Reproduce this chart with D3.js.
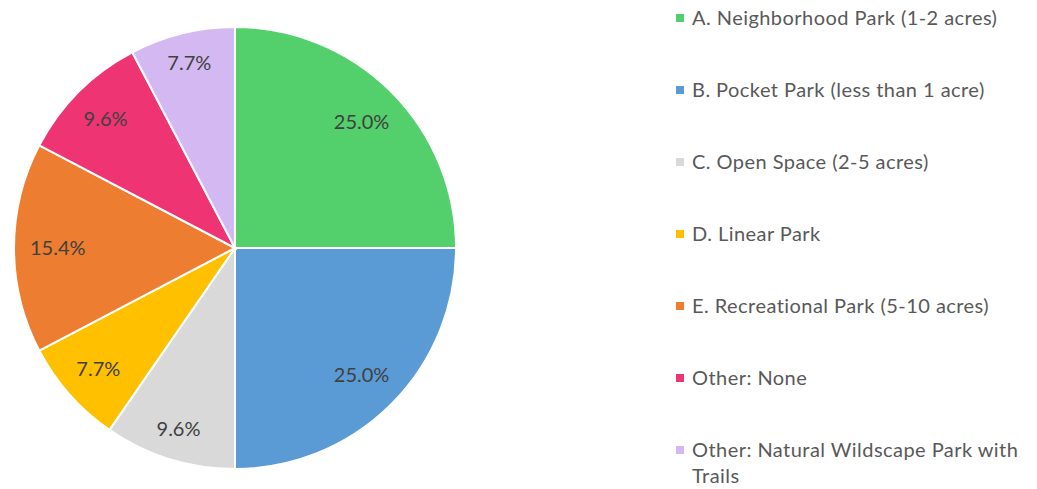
<!DOCTYPE html>
<html>
<head>
<meta charset="utf-8">
<script src="https://cdn.jsdelivr.net/npm/d3@7"></script>
<style>
  body { margin: 0; background: #fff; }
  text { font-family: Lato, "Open Sans", sans-serif; }
</style>
</head>
<body>
<div id="container"></div>
<script>
// Constants and globals
const width = 1037,
  height = 489,
  cx = 235,
  cy = 248,
  radius = 221

// data (counts out of 52 responses)
const categories = [
  "A. Neighborhood Park (1-2 acres)",
  "B. Pocket Park (less than 1 acre)",
  "C. Open Space (2-5 acres)",
  "D. Linear Park",
  "E. Recreational Park (5-10 acres)",
  "Other: None",
  "Other: Natural Wildscape Park with Trails"
]
const counts = [13, 13, 5, 4, 8, 5, 4]
const colors = ["#53cf6b", "#5b9bd5", "#d9d9d9", "#ffc000", "#ed7d31", "#ef3474", "#d4b8f2"]

const data = categories.map((c, i) => ({ name: c, value: counts[i], color: colors[i] }))
const total = d3.sum(counts)

const svg = d3.select("#container")
  .append("svg")
  .attr("width", width)
  .attr("height", height)

// pie
const pie = d3.pie().sort(null).value(d => d.value)
const arc = d3.arc().innerRadius(0).outerRadius(radius)
const arcs = pie(data)

const g = svg.append("g").attr("transform", `translate(${cx},${cy})`)

g.selectAll("path")
  .data(arcs)
  .join("path")
  .attr("d", arc)
  .attr("fill", d => d.data.color)
  .attr("stroke", "#fff")
  .attr("stroke-width", 2)

// labels, "inside end" style
const labels = g.selectAll("text.lbl")
  .data(arcs)
  .join("text")
  .attr("class", "lbl")
  .attr("text-anchor", "middle")
  .attr("dy", "0.36em")
  .attr("font-size", 20)
  .attr("fill", "#404040")
  .text(d => d3.format(".1%")(d.data.value / total))

labels.each(function(d) {
  const w = this.getComputedTextLength() / 2, h = 9
  const a = (d.startAngle + d.endAngle) / 2
  const s = Math.sin(a), c = -Math.cos(a)
  const dist = radius - 16 - (w * Math.abs(s) + h * Math.abs(c))
  d3.select(this).attr("x", dist * s).attr("y", dist * c)
})

// legend
const legendX = 676,
  legendTop = 18,
  rowStep = 72,
  maxW = width - legendX - 24

const legend = svg.append("g")

const rows = legend.selectAll("g")
  .data(data)
  .join("g")
  .attr("transform", (d, i) => `translate(${legendX},${legendTop + i * rowStep})`)

rows.append("rect")
  .attr("x", 0)
  .attr("y", -4)
  .attr("width", 8)
  .attr("height", 8)
  .attr("fill", d => d.color)

rows.append("text")
  .attr("x", 16)
  .attr("font-size", 20)
  .attr("letter-spacing", 0.45)
  .attr("fill", "#595959")
  .each(function(d) {
    // wrap long names
    const el = d3.select(this)
    const words = d.name.split(" ")
    let line = []
    let tspan = el.append("tspan").attr("x", 16).attr("dy", "0.36em")
    words.forEach(w => {
      line.push(w)
      tspan.text(line.join(" "))
      if (tspan.node().getComputedTextLength() > maxW && line.length > 1) {
        line.pop()
        tspan.text(line.join(" "))
        line = [w]
        tspan = el.append("tspan").attr("x", 16).attr("dy", 26).text(w)
      }
    })
  })
</script>
</body>
</html>
